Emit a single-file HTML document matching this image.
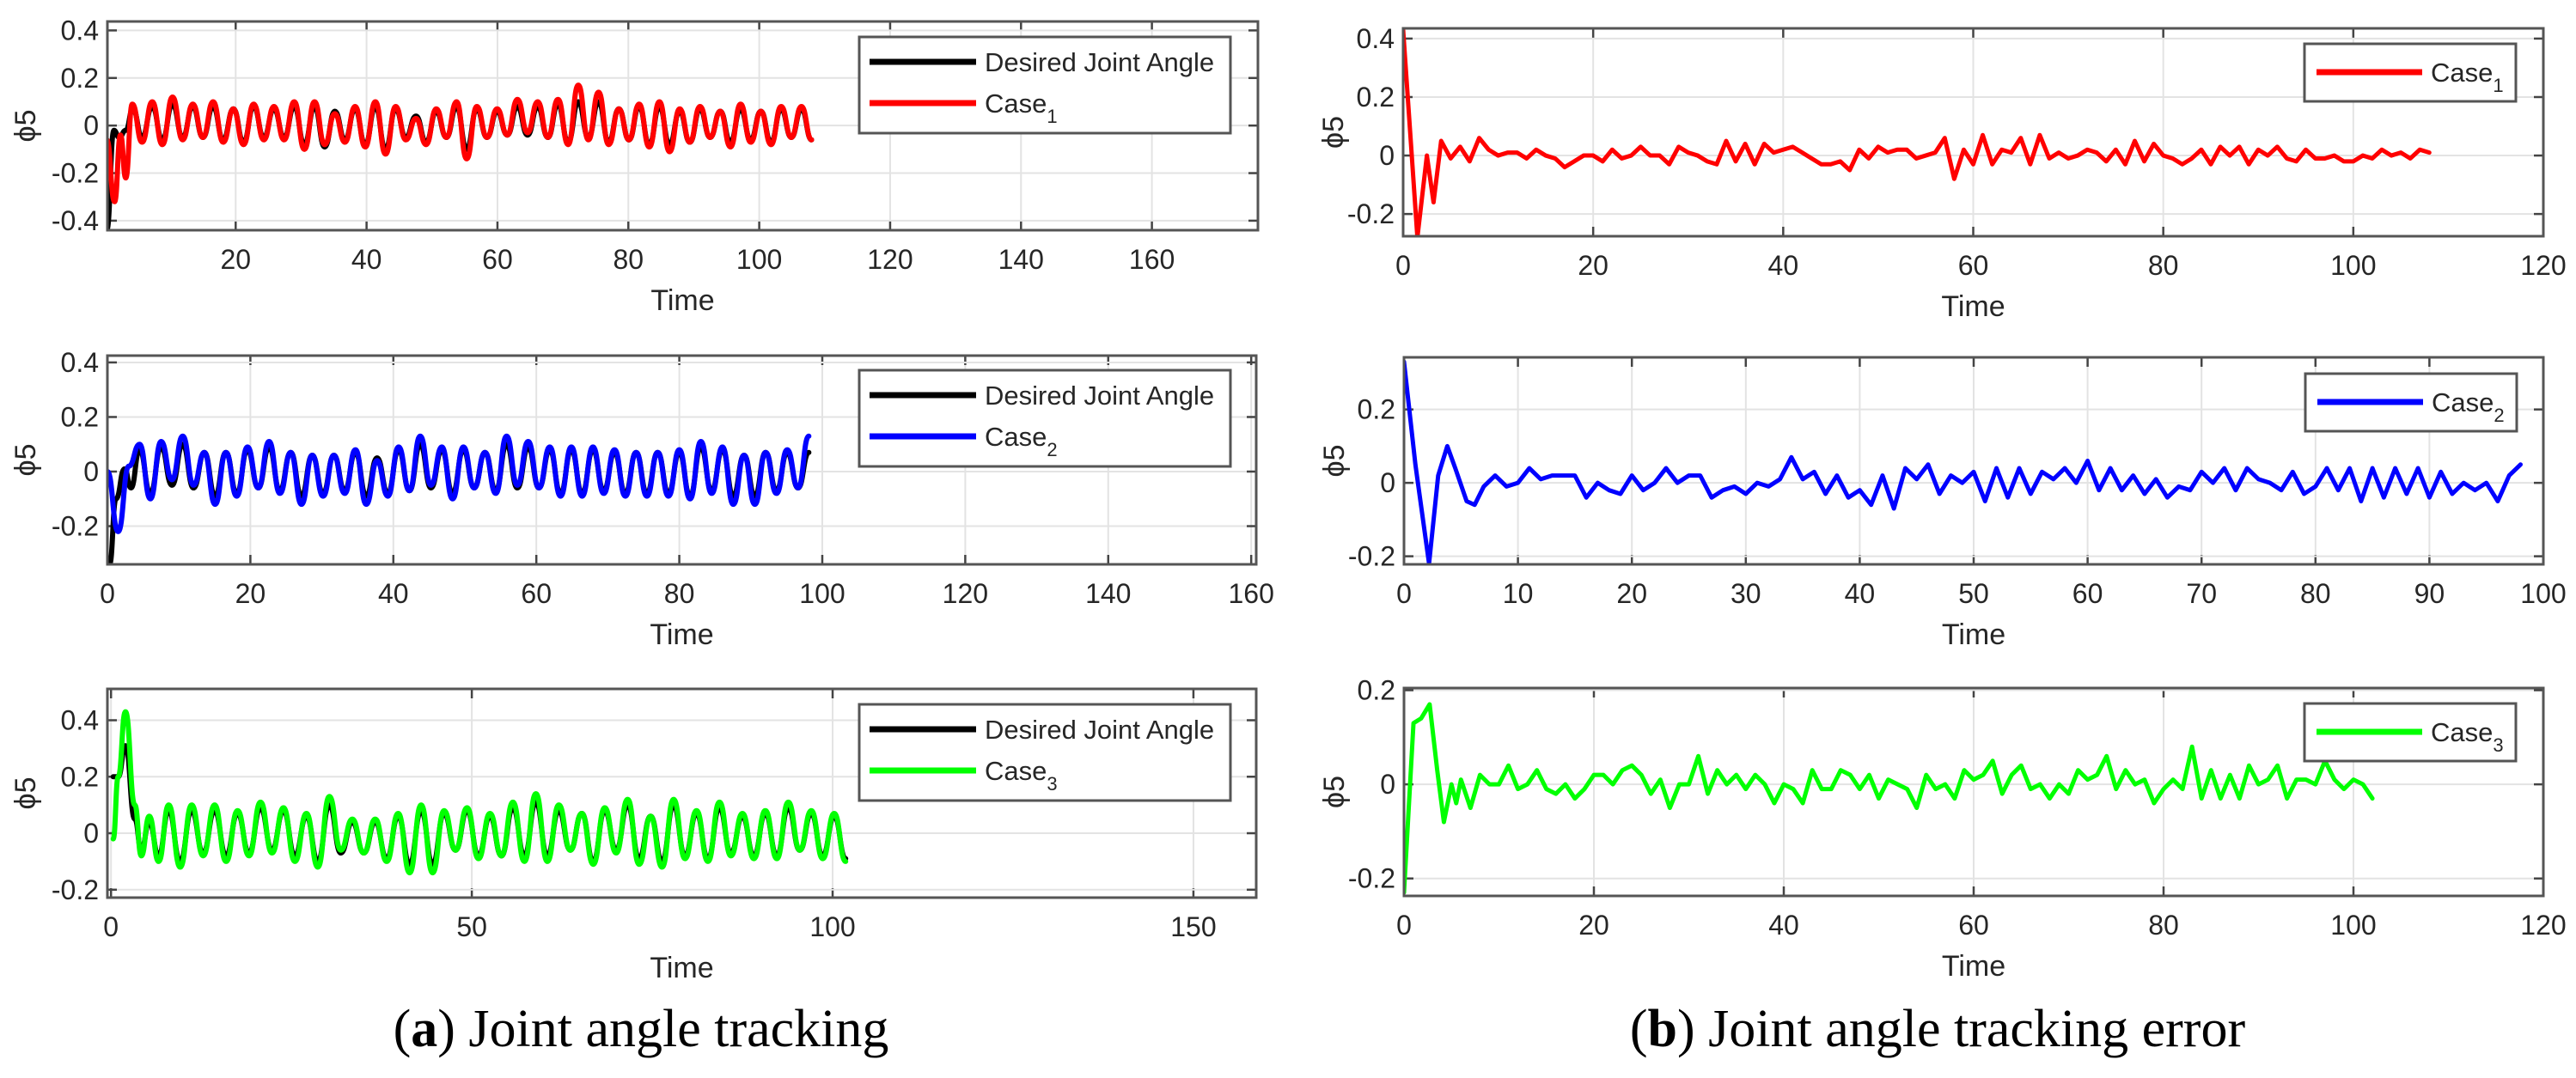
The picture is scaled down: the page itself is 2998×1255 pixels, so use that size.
<!DOCTYPE html>
<html><head><meta charset="utf-8"><style>
html,body{margin:0;padding:0;background:#fff}
svg{display:block}
text{font-family:"Liberation Sans",Arial,sans-serif;fill:#262626}
.cap{font-family:"Liberation Serif","Times New Roman",serif;fill:#000}
</style></head><body>
<svg id="fig" width="2998" height="1255" viewBox="0 0 2998 1255" xmlns="http://www.w3.org/2000/svg">
<text class="cap" x="746" y="1218" font-size="62" text-anchor="middle">(<tspan font-weight="bold">a</tspan>) Joint angle tracking</text>
<text class="cap" x="2255" y="1218" font-size="62" text-anchor="middle">(<tspan font-weight="bold">b</tspan>) Joint angle tracking error</text>
</svg>
<script>
// ---- Data arrays ----
// Panel A1 (Case1 tracking)
const a1RedTransT=[0.3,1.5,2.4,3.2,4.2];
const a1RedTransV=[-0.06,-0.32,-0.04,-0.22,0.09];
const a1RedStart=5.7, a1RedStep=1.55;
const a1RedExt=[-0.07,0.10,-0.08,0.12,-0.06,0.09,-0.05,0.10,-0.07,0.07,-0.08,0.09,-0.06,0.08,-0.06,0.10,-0.10,0.10,-0.08,0.05,-0.07,0.08,-0.09,0.10,-0.12,0.08,-0.06,0.03,-0.08,0.07,-0.05,0.10,-0.14,0.08,-0.05,0.07,-0.04,0.11,-0.03,0.10,-0.05,0.11,-0.08,0.17,-0.06,0.14,-0.08,0.07,-0.06,0.09,-0.09,0.10,-0.11,0.07,-0.07,0.08,-0.05,0.06,-0.09,0.09,-0.07,0.06,-0.08,0.08,-0.05,0.08,-0.06];
const a1BlkTransT=[0.3,1.4,2.2,3.2,4.3];
const a1BlkTransV=[-0.44,-0.02,-0.05,-0.02,0.07];
const a1BlkExt=[-0.05,0.08,-0.06,0.09,-0.05,0.08,-0.05,0.08,-0.06,0.07,-0.07,0.08,-0.05,0.07,-0.05,0.08,-0.08,0.08,-0.09,0.06,-0.06,0.07,-0.08,0.08,-0.10,0.07,-0.05,0.04,-0.07,0.06,-0.05,0.08,-0.10,0.07,-0.05,0.06,-0.04,0.08,-0.04,0.08,-0.05,0.09,-0.07,0.10,-0.05,0.10,-0.07,0.07,-0.06,0.08,-0.08,0.08,-0.08,0.06,-0.07,0.07,-0.05,0.06,-0.07,0.07,-0.06,0.06,-0.07,0.07,-0.05,0.07,-0.06];
// Panel A2 (Case2 tracking)
const a2BlueTransT=[0,1.5,3.0];
const a2BlueTransV=[0.0,-0.22,0.02];
const a2BlueStart=4.5, a2BlueStep=1.51;
const a2BlueExt=[0.10,-0.10,0.11,-0.03,0.13,-0.05,0.07,-0.12,0.07,-0.09,0.09,-0.06,0.11,-0.08,0.07,-0.12,0.06,-0.09,0.06,-0.08,0.08,-0.12,0.04,-0.09,0.09,-0.07,0.13,-0.05,0.09,-0.10,0.09,-0.06,0.07,-0.08,0.13,-0.05,0.11,-0.06,0.09,-0.09,0.09,-0.09,0.09,-0.08,0.08,-0.09,0.07,-0.09,0.07,-0.09,0.08,-0.10,0.11,-0.08,0.09,-0.12,0.06,-0.12,0.07,-0.08,0.08,-0.06,0.13];
const a2BlkTransT=[0.3,1.2,2.4,3.3];
const a2BlkTransV=[-0.34,-0.10,0.01,-0.06];
const a2BlkExt=[0.08,-0.08,0.09,-0.05,0.10,-0.06,0.07,-0.09,0.07,-0.08,0.08,-0.06,0.09,-0.07,0.07,-0.09,0.06,-0.08,0.06,-0.07,0.07,-0.09,0.05,-0.08,0.08,-0.07,0.10,-0.06,0.08,-0.08,0.08,-0.06,0.07,-0.07,0.10,-0.06,0.09,-0.06,0.08,-0.08,0.08,-0.08,0.08,-0.07,0.07,-0.08,0.07,-0.08,0.07,-0.08,0.07,-0.09,0.09,-0.07,0.08,-0.09,0.06,-0.09,0.07,-0.07,0.07,-0.06,0.07];
// Panel A3 (Case3 tracking)
const a3GreenTransT=[0.3,1.0,2.0,3.3,4.2,5.3,6.6];
const a3GreenTransV=[-0.02,0.20,0.43,0.10,-0.08,0.06,-0.10];
const a3GreenStart=8.0, a3GreenStep=1.59;
const a3GreenExt=[0.10,-0.12,0.10,-0.08,0.10,-0.10,0.08,-0.08,0.11,-0.07,0.09,-0.10,0.07,-0.12,0.13,-0.06,0.05,-0.07,0.05,-0.10,0.07,-0.14,0.10,-0.14,0.08,-0.06,0.09,-0.09,0.07,-0.08,0.11,-0.10,0.14,-0.10,0.10,-0.06,0.07,-0.11,0.09,-0.07,0.12,-0.11,0.06,-0.12,0.12,-0.09,0.08,-0.10,0.11,-0.08,0.07,-0.09,0.08,-0.09,0.11,-0.06,0.08,-0.09,0.07,-0.10];
const a3BlkTransT=[0.3,1.0,2.0,3.3,4.2,5.3,6.6];
const a3BlkTransV=[0.20,0.20,0.31,0.05,-0.06,0.04,-0.08];
const a3BlkExt=[0.08,-0.10,0.08,-0.07,0.08,-0.08,0.07,-0.07,0.09,-0.06,0.08,-0.08,0.06,-0.10,0.10,-0.07,0.04,-0.07,0.04,-0.09,0.06,-0.11,0.08,-0.11,0.07,-0.06,0.08,-0.08,0.06,-0.08,0.09,-0.08,0.11,-0.08,0.08,-0.06,0.07,-0.10,0.08,-0.06,0.10,-0.09,0.06,-0.10,0.10,-0.08,0.07,-0.09,0.09,-0.07,0.06,-0.08,0.07,-0.08,0.09,-0.06,0.07,-0.08,0.06,-0.09];
// Panel B1 (Case1 error)
const b1TransT=[0,1.5,2.5,3.2];
const b1TransV=[0.43,-0.28,0.0,-0.16];
const b1Start=4, b1Step=1;
const b1Vals=[0.05,-0.01,0.03,-0.02,0.06,0.02,0.0,0.01,0.01,-0.01,0.02,0.0,-0.01,-0.04,-0.02,0.0,0.0,-0.02,0.02,-0.01,0.0,0.03,0.0,0.0,-0.03,0.03,0.01,0.0,-0.02,-0.03,0.05,-0.02,0.04,-0.03,0.04,0.01,0.02,0.03,0.01,-0.01,-0.03,-0.03,-0.02,-0.05,0.02,-0.01,0.03,0.01,0.02,0.02,-0.01,0.0,0.01,0.06,-0.08,0.02,-0.03,0.07,-0.03,0.02,0.01,0.06,-0.03,0.07,-0.01,0.01,-0.01,0.0,0.02,0.01,-0.02,0.02,-0.03,0.05,-0.02,0.04,0.0,-0.01,-0.03,-0.01,0.02,-0.03,0.03,0.0,0.03,-0.03,0.02,0.0,0.03,-0.01,-0.02,0.02,-0.01,-0.01,0.0,-0.02,-0.02,0.0,-0.01,0.02,0.0,0.01,-0.01,0.02,0.01];
// Panel B2 (Case2 error)
const b2TransT=[0,1,2.2,3,3.8,4.5,5.5,6.2,7];
const b2TransV=[0.33,0.05,-0.22,0.02,0.10,0.04,-0.05,-0.06,-0.01];
const b2Start=8, b2Step=1;
const b2Vals=[0.02,-0.01,0.0,0.04,0.01,0.02,0.02,0.02,-0.04,0.0,-0.02,-0.03,0.02,-0.02,0.0,0.04,0.0,0.02,0.02,-0.04,-0.02,-0.01,-0.03,0.0,-0.01,0.01,0.07,0.01,0.03,-0.03,0.02,-0.04,-0.02,-0.06,0.02,-0.07,0.04,0.01,0.05,-0.03,0.02,0.0,0.03,-0.05,0.04,-0.04,0.04,-0.03,0.03,0.01,0.04,0.0,0.06,-0.02,0.04,-0.02,0.02,-0.03,0.01,-0.04,-0.01,-0.02,0.03,0.0,0.04,-0.02,0.04,0.01,0.0,-0.02,0.03,-0.03,-0.01,0.04,-0.02,0.04,-0.05,0.04,-0.04,0.04,-0.03,0.04,-0.04,0.03,-0.03,0.0,-0.02,0.0,-0.05,0.02,0.05];
// Panel B3 (Case3 error)
const b3TransT=[0,1,1.8,2.7,3.5,4.2,5,5.5,6,7,8];
const b3TransV=[-0.23,0.13,0.14,0.17,0.03,-0.08,0.0,-0.04,0.01,-0.05,0.02];
const b3Start=9, b3Step=1;
const b3Vals=[0.0,0.0,0.04,-0.01,0.0,0.03,-0.01,-0.02,0.0,-0.03,-0.01,0.02,0.02,0.0,0.03,0.04,0.02,-0.02,0.01,-0.05,0.0,0.0,0.06,-0.02,0.03,0.0,0.02,-0.01,0.02,0.0,-0.04,0.0,-0.01,-0.04,0.03,-0.01,-0.01,0.03,0.02,-0.01,0.02,-0.03,0.01,0.0,-0.01,-0.05,0.02,-0.01,0.0,-0.03,0.03,0.01,0.02,0.05,-0.02,0.02,0.04,-0.01,0.0,-0.03,0.0,-0.02,0.03,0.01,0.02,0.06,-0.01,0.03,0.0,0.01,-0.04,-0.01,0.01,-0.01,0.08,-0.03,0.03,-0.03,0.02,-0.03,0.04,0.0,0.01,0.04,-0.03,0.01,0.01,0.0,0.05,0.01,-0.01,0.01,0.0,-0.03];
// Tick labels
const ticksA1X=[20,40,60,80,100,120,140,160];
const ticksA2X=[0,20,40,60,80,100,120,140,160];
const ticksA3X=[0,50,100,150];
const ticksB1X=[0,20,40,60,80,100,120];
const ticksB2X=[0,10,20,30,40,50,60,70,80,90,100];
const ticksB3X=[0,20,40,60,80,100,120];
const ticksA1Y=[-0.4,-0.2,0,0.2,0.4];
const ticksA2Y=[-0.2,0,0.2,0.4];
const ticksA3Y=[-0.2,0,0.2,0.4];
const ticksB1Y=[-0.2,0,0.2,0.4];
const ticksB2Y=[-0.2,0,0.2];
const ticksB3Y=[-0.2,0,0.2];

const NS="http://www.w3.org/2000/svg";
const svg=document.getElementById('fig');
function mk(tag,attrs,parent){const e=document.createElementNS(NS,tag);for(const k in attrs)e.setAttribute(k,attrs[k]);(parent||svg).appendChild(e);return e;}
function fmt(v){return v===0?'0':String(v);}

function panel(id,box,xd,yd,xt,yt){
  const g=mk('g',{});
  
  
  const sx=v=>box.x+(v-xd[0])/(xd[1]-xd[0])*box.w;
  const sy=v=>box.y+box.h-(v-yd[0])/(yd[1]-yd[0])*box.h;
  const bg=mk('rect',{x:box.x,y:box.y,width:box.w,height:box.h,fill:'#fff'},g);
  
  
  xt.forEach(t=>{const x=sx(t);
    mk('line',{x1:x,x2:x,y1:box.y,y2:box.y+box.h,stroke:'#e3e3e3','stroke-width':2},g);
    mk('line',{x1:x,x2:x,y1:box.y+box.h,y2:box.y+box.h-11,stroke:'#444','stroke-width':2.5},g);
    mk('line',{x1:x,x2:x,y1:box.y,y2:box.y+11,stroke:'#444','stroke-width':2.5},g);
    const tx=mk('text',{x:x,y:box.y+box.h+45,'font-size':32,'text-anchor':'middle'},g);
    
    
    tx.textContent=fmt(t);});
  yt.forEach(t=>{const y=sy(t);
    mk('line',{x1:box.x,x2:box.x+box.w,y1:y,y2:y,stroke:'#e3e3e3','stroke-width':2},g);
    mk('line',{x1:box.x,x2:box.x+11,y1:y,y2:y,stroke:'#444','stroke-width':2.5},g);
    mk('line',{x1:box.x+box.w,x2:box.x+box.w-11,y1:y,y2:y,stroke:'#444','stroke-width':2.5},g);
    const tx=mk('text',{x:box.x-10,y:y+11,'font-size':32,'text-anchor':'end'},g);
    
    
    tx.textContent=fmt(t);});
  const clip=mk('clipPath',{id:id+'-clip'},g);
  mk('rect',{x:box.x,y:box.y,width:box.w,height:box.h},clip);
  const lines=mk('g',{'clip-path':'url(#'+id+'-clip)'},g);
  const frame=mk('rect',{x:box.x,y:box.y,width:box.w,height:box.h,fill:'none',stroke:'#555','stroke-width':3},g);
  
  
  const xl=mk('text',{x:box.x+box.w/2,y:box.y+box.h+93,'font-size':34,'text-anchor':'middle'},g);
  
  
  xl.textContent='Time';
  const yl=mk('text',{x:0,y:0,'font-size':34,'text-anchor':'middle',transform:`translate(${box.x-(box.x>1000?70:84)},${box.y+box.h/2}) rotate(-90)`},g);
  
  
  yl.textContent='ϕ5';
  return {g,lines,sx,sy};
}
function smoothPath(ts,vs,P){
  let d='';
  for(let i=0;i<ts.length;i++){
    const x=P.sx(ts[i]),y=P.sy(vs[i]);
    if(i===0){d+=`M${x},${y}`;continue;}
    const px=P.sx(ts[i-1]),py=P.sy(vs[i-1]);const mx=(px+x)/2;
    d+=` C${mx},${py} ${mx},${y} ${x},${y}`;
  }
  return d;
}
function polyPath(ts,vs,P){return ts.map((t,i)=>(i?'L':'M')+P.sx(t)+','+P.sy(vs[i])).join(' ');}
function seriesT(transT,start,step,vals){const t=transT.slice();vals.forEach((v,i)=>t.push(start+i*step));return t;}
function drawSeries(P,name,ts,vs,color,w,smooth){
  const p=mk('path',{d:smooth?smoothPath(ts,vs,P):polyPath(ts,vs,P),fill:'none',stroke:color,'stroke-width':w,'stroke-linejoin':'round','stroke-linecap':'round'},P.lines);
  
  
}
function legend(P,id,box,entries){
  const g=mk('g',{},P.g);
  
  
  mk('rect',{x:box.x,y:box.y,width:box.w,height:box.h,fill:'#fff',stroke:'#555','stroke-width':3},g);
  entries.forEach((e,i)=>{
    const y=box.y+box.first+i*box.gap;
    const eg=mk('g',{},g);
    
    
    mk('line',{x1:box.x+box.l1,x2:box.x+box.l2,y1:y,y2:y,stroke:e.c,'stroke-width':7},eg);
    const t=mk('text',{x:box.x+box.l2+10,y:y+11,'font-size':31,fill:'#000'},eg);
    t.textContent=e.label;
    if(e.sub){const s=mk('tspan',{'font-size':22,dy:12},t);s.textContent=e.sub;}
  });
}
const legA={w:432,h:112,first:29,gap:48,l1:12,l2:136};
const legB={w:246,h:67,first:33,gap:0,l1:14,l2:137};

// A1
let P=panel('panel-a1',{x:125,y:25,w:1339,h:243},[0.4,176.2],[-0.44,0.4376],ticksA1X,ticksA1Y);
drawSeries(P,'desired-line-a1',seriesT(a1BlkTransT,a1RedStart,a1RedStep,a1BlkExt),a1BlkTransV.concat(a1BlkExt),'#000',6,true);
drawSeries(P,'case1-line',seriesT(a1RedTransT,a1RedStart,a1RedStep,a1RedExt),a1RedTransV.concat(a1RedExt),'#ff0000',6,true);
legend(P,'legend-a1',Object.assign({x:1000,y:43},legA),[{c:'#000',label:'Desired Joint Angle'},{c:'#ff0000',label:'Case',sub:'1'}]);
// A2
P=panel('panel-a2',{x:125,y:414,w:1337,h:243},[0,160.7],[-0.34,0.425],ticksA2X,ticksA2Y);
drawSeries(P,'desired-line-a2',seriesT(a2BlkTransT,a2BlueStart,a2BlueStep,a2BlkExt),a2BlkTransV.concat(a2BlkExt),'#000',6,true);
drawSeries(P,'case2-line',seriesT(a2BlueTransT,a2BlueStart,a2BlueStep,a2BlueExt),a2BlueTransV.concat(a2BlueExt),'#0000ff',6,true);
legend(P,'legend-a2',Object.assign({x:1000,y:431},legA),[{c:'#000',label:'Desired Joint Angle'},{c:'#0000ff',label:'Case',sub:'2'}]);
// A3
P=panel('panel-a3',{x:125,y:802,w:1337,h:243},[-0.5,158.7],[-0.228,0.511],ticksA3X,ticksA3Y);
drawSeries(P,'desired-line-a3',seriesT(a3BlkTransT,a3GreenStart,a3GreenStep,a3BlkExt),a3BlkTransV.concat(a3BlkExt),'#000',6,true);
drawSeries(P,'case3-line',seriesT(a3GreenTransT,a3GreenStart,a3GreenStep,a3GreenExt),a3GreenTransV.concat(a3GreenExt),'#00ff00',6,true);
legend(P,'legend-a3',Object.assign({x:1000,y:820},legA),[{c:'#000',label:'Desired Joint Angle'},{c:'#00ff00',label:'Case',sub:'3'}]);
// B1
P=panel('panel-b1',{x:1633,y:33,w:1327,h:242},[0,120],[-0.276,0.435],ticksB1X,ticksB1Y);
drawSeries(P,'case1-error-line',seriesT(b1TransT,b1Start,b1Step,b1Vals),b1TransV.concat(b1Vals),'#ff0000',5,false);
legend(P,'legend-b1',Object.assign({x:2682,y:51},legB),[{c:'#ff0000',label:'Case',sub:'1'}]);
// B2
P=panel('panel-b2',{x:1634,y:416,w:1326,h:241},[0,100],[-0.222,0.342],ticksB2X,ticksB2Y);
drawSeries(P,'case2-error-line',seriesT(b2TransT,b2Start,b2Step,b2Vals),b2TransV.concat(b2Vals),'#0000ff',5,false);
legend(P,'legend-b2',Object.assign({x:2683,y:435},legB),[{c:'#0000ff',label:'Case',sub:'2'}]);
// B3
P=panel('panel-b3',{x:1634,y:801,w:1326,h:242},[0,120],[-0.237,0.2046],ticksB3X,ticksB3Y);
drawSeries(P,'case3-error-line',seriesT(b3TransT,b3Start,b3Step,b3Vals),b3TransV.concat(b3Vals),'#00ff00',5,false);
legend(P,'legend-b3',Object.assign({x:2682,y:819},legB),[{c:'#00ff00',label:'Case',sub:'3'}]);
</script>
</body></html>
